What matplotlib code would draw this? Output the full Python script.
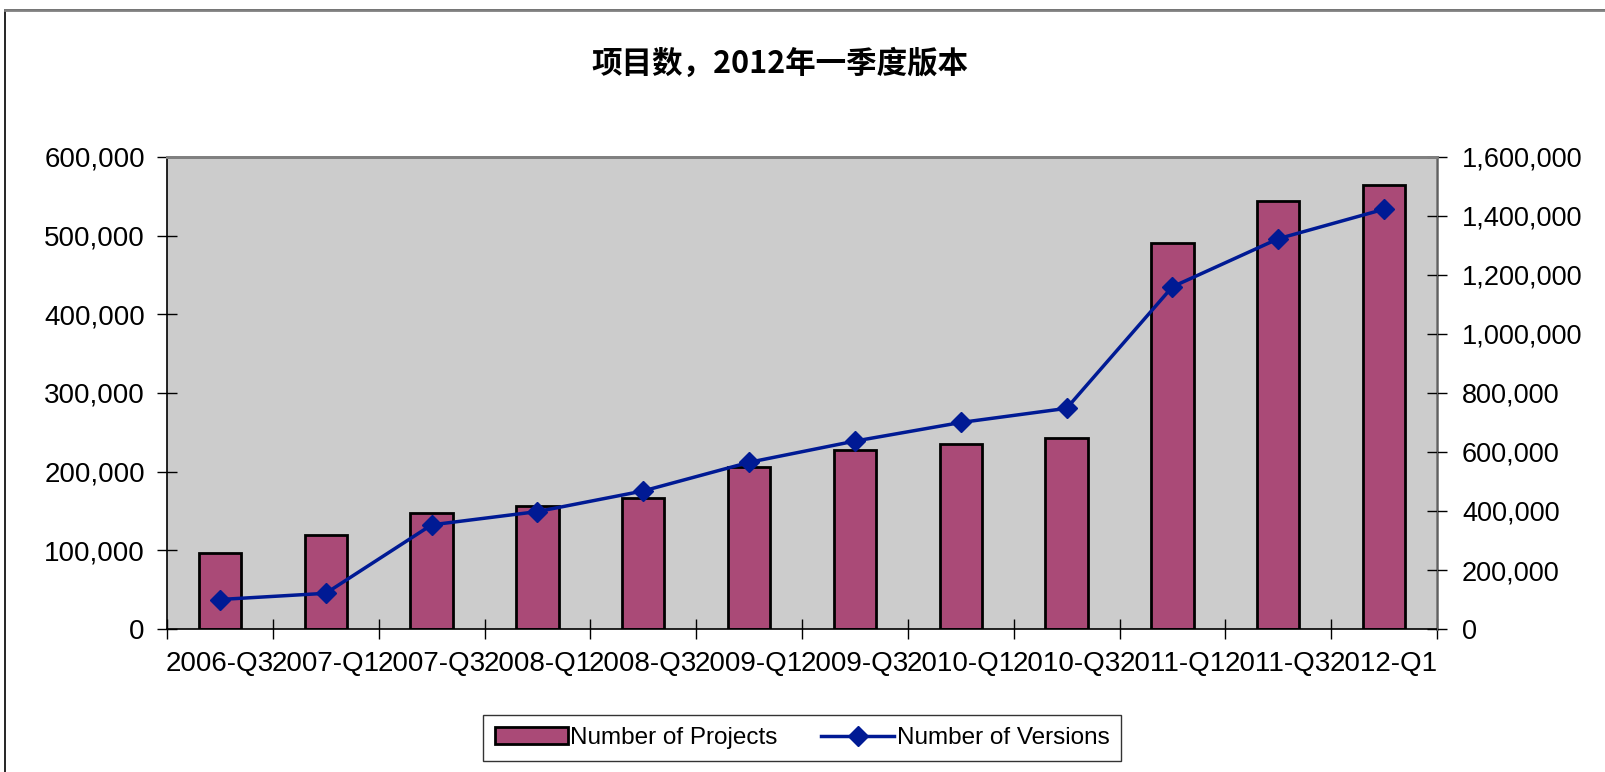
import numpy as np
import matplotlib
matplotlib.use('Agg')
import matplotlib.pyplot as plt
from matplotlib.ticker import FuncFormatter
from matplotlib.patches import Rectangle

# data
quarters = ['2006-Q3', '2007-Q1', '2007-Q3', '2008-Q1', '2008-Q3', '2009-Q1',
            '2009-Q3', '2010-Q1', '2010-Q3', '2011-Q1', '2011-Q3', '2012-Q1']
projects = [97000, 119000, 148000, 156000, 167000, 206000,
            227000, 235000, 243000, 491000, 544000, 565000]
versions = [100000, 121000, 353000, 398000, 468000, 565000,
            637000, 700000, 748000, 1160000, 1323000, 1423000]

plt.rcParams['font.family'] = ['Liberation Sans', 'Noto Sans CJK SC', 'DejaVu Sans']

fig = plt.figure(figsize=(16.05, 7.72), dpi=100)
ax = fig.add_axes([167/1605, 1-629/772, (1437-167)/1605, (629-157)/772])
ax2 = ax.twinx()

x = np.arange(len(quarters))
ax.set_facecolor('#cccccc')
ax.bar(x, projects, width=0.4, color='#aa4a77', edgecolor='black', linewidth=2,
       label='Number of Projects', zorder=2)
ax2.plot(x, versions, color='#001a94', linewidth=2.5, marker='D', markersize=10,
         label='Number of Versions')

ax.set_xlim(-0.5, len(quarters)-0.5)
ax.set_ylim(0, 600000)
ax2.set_ylim(0, 1600000)
ax.set_yticks(np.arange(0, 600001, 100000))
ax2.set_yticks(np.arange(0, 1600001, 200000))
fmt = FuncFormatter(lambda v, p: f'{int(v):,}')
ax.yaxis.set_major_formatter(fmt)
ax2.yaxis.set_major_formatter(fmt)

ax.set_xticks(x)
ax.set_xticklabels(quarters)
ax.set_xticks(np.arange(-0.5, len(quarters)), minor=True)
ax.tick_params(axis='x', which='major', length=0, labelsize=20, pad=16)
ax.tick_params(axis='x', which='minor', length=15, direction='inout', width=1)
ax.tick_params(axis='y', labelsize=20, length=14, direction='inout', width=1, pad=9)
ax2.tick_params(axis='y', labelsize=19.5, length=14, direction='inout', width=1, pad=11)

for s in ['top', 'right']:
    ax.spines[s].set_color('#808080')
    ax.spines[s].set_linewidth(2)
ax2.spines['top'].set_color('#808080')
ax2.spines['top'].set_linewidth(2)
ax2.spines['right'].set_color('#606060')
ax2.spines['left'].set_visible(False)
ax2.spines['bottom'].set_visible(False)
ax.spines['left'].set_linewidth(1.2)
ax.spines['bottom'].set_linewidth(1.2)

fig.text(0.486, 1-64/772, '项目数，2012年一季度版本', ha='center', va='center',
         fontsize=22, fontweight='bold', family=['Noto Sans CJK SC', 'DejaVu Sans'])

# outer chart frame
fig.patches.append(Rectangle((5/1605, -0.05), 1.1, 1-10/772+0.05, transform=fig.transFigure,
                             fill=False, edgecolor='black', linewidth=1.2))
fig.lines.append(plt.Line2D([5/1605, 1], [1-10/772, 1-10/772], transform=fig.transFigure,
                            color='#808080', linewidth=2))

h1, l1 = ax.get_legend_handles_labels()
h2, l2 = ax2.get_legend_handles_labels()
leg = fig.legend(h1+h2, l1+l2, loc='center', bbox_to_anchor=(802/1605, 1-738/772),
                 ncol=2, fontsize=17.5, frameon=True, fancybox=False, borderpad=0.5,
                 handlelength=3, handletextpad=0.1, columnspacing=1.8, borderaxespad=0)
leg.get_frame().set_edgecolor('black')
leg.get_frame().set_linewidth(1)

fig.savefig('out.png', dpi=100)
